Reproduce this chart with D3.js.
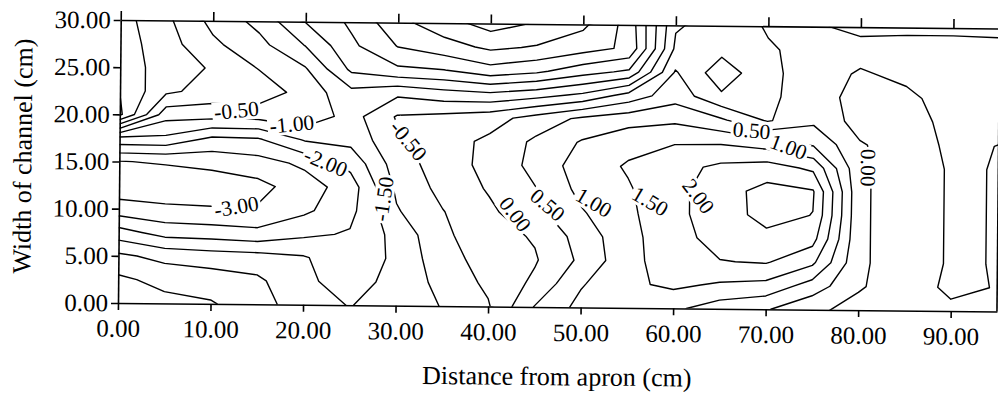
<!DOCTYPE html>
<html>
<head>
<meta charset="utf-8">
<script src="https://cdn.jsdelivr.net/npm/d3@7/dist/d3.min.js"></script>
<style>
  html, body { margin: 0; padding: 0; background: #fff; }
  svg { display: block; }
  text { font-family: "Liberation Serif", "DejaVu Serif", serif; fill: #000; }
</style>
</head>
<body>
<svg id="chart" width="998" height="395"></svg>
<script>
// Bed level grid (cm).
// columns: distance from apron, rows: width of channel (first row = 30 cm)
const distance = [0, 5, 10, 15, 20, 25, 30, 35, 40, 45, 50, 55, 60, 65, 70, 75, 80, 85, 90, 95];
const widthPos = [30, 27.5, 25, 22.5, 20, 17.5, 15, 12.5, 10, 7.5, 5, 2.5, 0];

const w30   = [0.7, 0.1, -0.65, -1.15, -2.02, -2.6, -3.35, -3.8, -4.2, -3.95, -3.6, -2.8, -0.55, -0.3, 0.05, 0.05, -0.1, -0.1, -0.1, -0.1];
const w27_5 = [0.75, 0.2, -0.4, -0.85, -1.52, -2.4, -3.02, -3.3, -3.6, -3.45, -3.2, -2.9, -0.4, -0.35, -0.05, 0.15, 0.15, 0.2, 0.2, 0.15];
const w25   = [0.8, 0.25, -0.05, -0.52, -0.95, -2.1, -2.4, -2.48, -2.8, -2.6, -2.2, -1.9, 0.05, -0.8, -0.1, 0.2, -0.05, 0.1, 0.2, 0.2];
const w22_5 = [0.98, 0.1, -0.2, -0.2, -0.7, -1.35, -1.1, -1.3, -1.4, -1.2, -0.9, -0.3, 0.3, -0.42, -0.1, 0.25, -0.2, -0.1, 0.2, 0.2];
const w20   = [1.1, -0.8, -0.8, -0.8, -0.65, -1.2, -0.45, -0.35, -0.2, 0.2, 0.6, 0.8, 0.9, 0.58, -0.05, 0.4, -0.2, -0.2, 0.15, 0.15];
const w17_5 = [-1.6, -1.6, -2.1, -2.05, -1.45, -1.35, -0.6, -0.2, 0.1, 0.6, 1.05, 1.35, 1.48, 1.48, 1.3, 0.94, 0.05, -0.25, 0.1, -0.01];
const w15   = [-3.02, -2.95, -2.85, -2.7, -2.4, -1.85, -0.75, -0.25, 0.15, 0.65, 1.25, 1.55, 1.82, 2.11, 2.23, 1.9, 0.1, -0.3, 0.06, -0.02];
const w12_5 = [-3.3, -3.35, -3.3, -3.15, -2.75, -2.25, -0.9, -0.35, 0.05, 0.48, 1.15, 1.45, 1.85, 2.3, 2.66, 2.55, 0.1, -0.3, 0.06, -0.02];
const w10   = [-2.8, -2.9, -2.95, -2.95, -2.6, -2.15, -1.05, -0.52, -0.1, 0.35, 0.95, 1.4, 1.85, 2.3, 2.64, 2.49, 0.1, -0.3, 0.06, -0.02];
const w7_5  = [-1.8, -2.2, -2.25, -2.35, -2.1, -1.95, -1.35, -0.6, -0.2, 0.05, 0.7, 1.35, 1.8, 2.2, 2.39, 2.18, 0.1, -0.3, 0.06, -0.02];
const w5    = [-0.9, -1.15, -1.25, -1.3, -1.45, -1.85, -1.4, -0.7, -0.3, -0.05, 0.6, 1.35, 1.75, 1.98, 2.04, 1.6, 0.1, -0.3, 0.06, -0.02];
const w2_5  = [-0.4, -0.65, -0.75, -0.9, -1.4, -1.7, -1.35, -0.85, -0.4, 0.1, 0.95, 1.4, 1.6, 1.43, 1.35, 0.78, 0.05, -0.25, 0.1, -0.02];
const w0    = [-0.2, -0.35, -0.45, -0.8, -1.25, -1.52, -1.3, -0.98, -0.55, 0.52, 1.15, 1.35, 1.1, 0.75, 0.55, 0.1, -0.15, -0.2, -0.1, -0.05];

const rows = [w30, w27_5, w25, w22_5, w20, w17_5, w15, w12_5, w10, w7_5, w5, w2_5, w0];

const levels = [-4.5, -4, -3.5, -3, -2.5, -2, -1.5, -1, -0.5, 0, 0.5, 1, 1.5, 2, 2.5, 3];
const xTicks = [0, 10, 20, 30, 40, 50, 60, 70, 80, 90];
const yTicks = [0, 5, 10, 15, 20, 25, 30];

// contour labels as printed on the map
const contourLabels = [
  { text: '-0.50', x: 12.6, y: 20.5, angle: -6 },
  { text: '-1.00', x: 18.6, y: 19.1, angle: -6 },
  { text: '-2.00', x: 22.3, y: 15.1, angle: 22 },
  { text: '-3.00', x: 12.7, y: 10.3, angle: -10 },
  { text: '-1.50', x: 28.6, y: 11.3, angle: -82 },
  { text: '-0.50', x: 31.2, y: 17.5, angle: 50 },
  { text: '0.00', x: 42.8, y: 9.8, angle: 52 },
  { text: '0.50', x: 46.3, y: 10.8, angle: 40 },
  { text: '1.00', x: 51.3, y: 11.1, angle: 30 },
  { text: '1.50', x: 57.4, y: 11.3, angle: 30 },
  { text: '2.00', x: 62.6, y: 11.9, angle: 52 },
  { text: '0.50', x: 68.3, y: 18.9, angle: 4 },
  { text: '1.00', x: 72.3, y: 17.2, angle: 20 },
  { text: '0.00', x: 80.9, y: 15.1, angle: 90 },
];

const svg = d3.select('#chart');
const x = d3.scaleLinear().domain([0, 95]).range([118, 997]);
const y = d3.scaleLinear().domain([0, 30]).range([303, 20]);

// the scan is tilted a little
const g = svg.append('g').attr('transform', 'rotate(0.55,118,303)');

const defs = svg.append('defs');
defs.append('clipPath').attr('id', 'plotClip')
  .append('rect')
  .attr('x', x(0)).attr('y', y(30))
  .attr('width', x(95) - x(0)).attr('height', y(0) - y(30));

const mask = defs.append('mask').attr('id', 'labelMask')
  .attr('maskUnits', 'userSpaceOnUse')
  .attr('x', -100).attr('y', -100).attr('width', 1200).attr('height', 600);
mask.append('rect')
  .attr('x', -100).attr('y', -100).attr('width', 1200).attr('height', 600)
  .attr('fill', 'white');

// d3.contours puts sample i at i + 0.5
const gx = d3.scaleLinear()
  .domain([0.5, distance.length - 0.5])
  .range([x(distance[0]), x(distance[distance.length - 1])]);
const gy = d3.scaleLinear()
  .domain([0.5, widthPos.length - 0.5])
  .range([y(widthPos[0]), y(widthPos[widthPos.length - 1])]);

const values = [];
rows.forEach(r => values.push(...r));

const contours = d3.contours()
  .size([distance.length, widthPos.length])
  .thresholds(levels)(values);

const projection = d3.geoTransform({
  point(px, py) {
    this.stream.point(gx(px), gy(py));
  },
});
const path = d3.geoPath(projection);

const lines = g.append('g').attr('clip-path', 'url(#plotClip)')
  .append('g').attr('mask', 'url(#labelMask)');

lines.selectAll('path')
  .data(contours)
  .enter()
  .append('path')
  .attr('d', path)
  .attr('fill', 'none')
  .attr('stroke', '#000')
  .attr('stroke-width', 1.4)
  .attr('stroke-linejoin', 'round');

// labels, with a gap cut in the lines behind them
const labelG = g.append('g');
contourLabels.forEach(d => {
  const tr = `translate(${x(d.x)},${y(d.y)}) rotate(${d.angle})`;
  const t = labelG.append('text')
    .attr('transform', tr)
    .attr('text-anchor', 'middle')
    .attr('dominant-baseline', 'central')
    .attr('font-size', 21.5)
    .text(d.text);
  const bb = t.node().getBBox();
  mask.append('rect')
    .attr('transform', tr)
    .attr('x', bb.x - 2).attr('y', bb.y + 2)
    .attr('width', bb.width + 4).attr('height', bb.height - 4)
    .attr('fill', 'black');
});

// frame and axes
const fmt = d3.format('.2f');

const styleAxis = sel => {
  sel.attr('font-family', '"Liberation Serif", serif').attr('font-size', 25);
  sel.selectAll('path, line').attr('stroke', '#000').attr('stroke-width', 1.6);
};

g.append('g')
  .attr('transform', `translate(0,${y(0)})`)
  .call(d3.axisBottom(x).tickValues(xTicks).tickFormat(fmt)
    .tickSize(7).tickSizeOuter(0).tickPadding(9))
  .call(styleAxis);

g.append('g')
  .attr('transform', `translate(${x(0)},0)`)
  .call(d3.axisLeft(y).tickValues(yTicks).tickFormat(fmt)
    .tickSize(7).tickSizeOuter(0).tickPadding(3))
  .call(styleAxis);

g.append('g')
  .attr('transform', `translate(0,${y(30)})`)
  .call(d3.axisTop(x).tickValues(xTicks).tickFormat('')
    .tickSize(9).tickSizeOuter(0))
  .call(styleAxis);

g.append('line')
  .attr('x1', x(95)).attr('x2', x(95))
  .attr('y1', y(30)).attr('y2', y(0))
  .attr('stroke', '#000').attr('stroke-width', 1.6);

g.append('text')
  .attr('x', (x(0) + x(95)) / 2)
  .attr('y', 381)
  .attr('text-anchor', 'middle')
  .attr('font-size', 26)
  .text('Distance from apron (cm)');

g.append('text')
  .attr('transform', `translate(30,${157}) rotate(-90)`)
  .attr('text-anchor', 'middle')
  .attr('font-size', 26)
  .text('Width of channel (cm)');
</script>
</body>
</html>
